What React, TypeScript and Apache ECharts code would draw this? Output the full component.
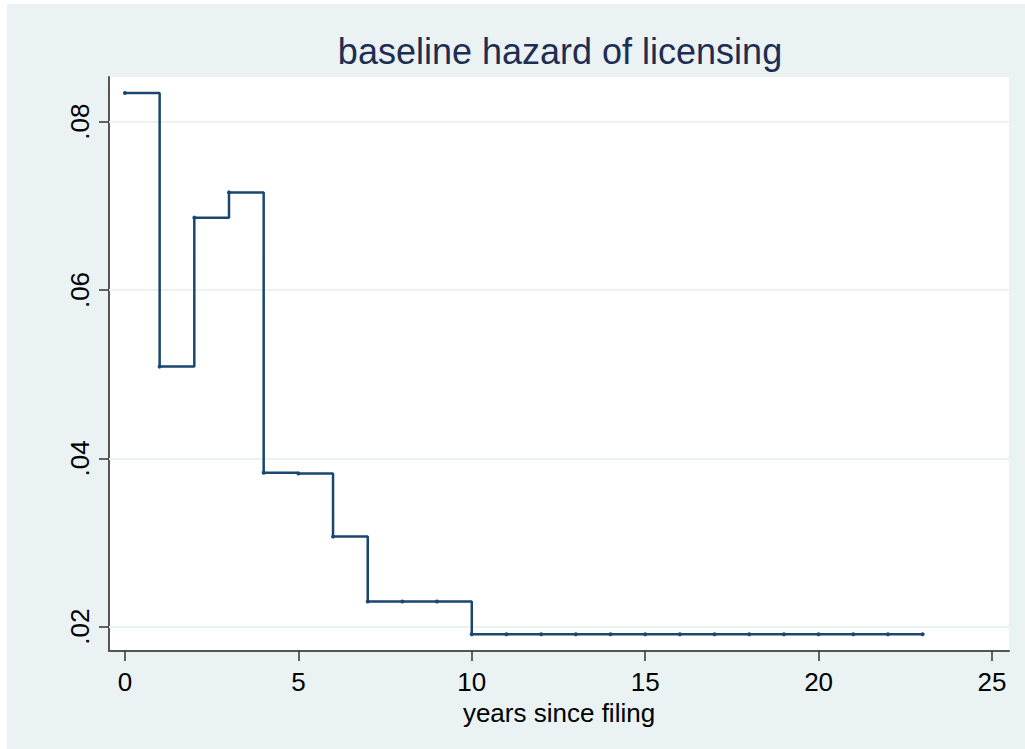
import React, { useEffect, useRef } from "react";
import * as echarts from "echarts";

const years = [0, 1, 2, 3, 4, 5, 6, 7, 8, 9, 10, 11, 12, 13, 14, 15, 16, 17, 18, 19, 20, 21, 22, 23];
const hazard = [
  0.0834, 0.0509, 0.0686, 0.0716, 0.0383, 0.0382, 0.0307, 0.023, 0.023, 0.023,
  0.0191, 0.0191, 0.0191, 0.0191, 0.0191, 0.0191, 0.0191, 0.0191, 0.0191, 0.0191,
  0.0191, 0.0191, 0.0191, 0.0191,
];
const xTicks = [0, 5, 10, 15, 20, 25];
const yTicks = [0.02, 0.04, 0.06, 0.08];
const titleText = "baseline hazard of licensing";
const xName = "years since filing";

const FONT = "'Liberation Sans', Arial, sans-serif";

export default function App() {
  const ref = useRef<HTMLDivElement>(null);
  useEffect(() => {
    if (!ref.current) return;
    const chart = echarts.init(ref.current, null, { renderer: "svg" });
    chart.setOption({
      animation: false,
      backgroundColor: "#ffffff",
      textStyle: { fontFamily: FONT },
      graphic: [
        {
          type: "rect",
          z: -10,
          silent: true,
          shape: { x: 7, y: 4, width: 1018, height: 745 },
          style: { fill: "#eaf2f3" },
        },
      ],
      title: {
        text: titleText,
        left: 560,
        textAlign: "center",
        top: 33,
        padding: 0,
        textStyle: { fontFamily: FONT, fontSize: 36, fontWeight: "normal", color: "#1e2d52" },
      },
      grid: {
        left: 109,
        top: 77,
        width: 900,
        height: 574,
        show: true,
        backgroundColor: "#ffffff",
        borderWidth: 0,
      },
      xAxis: {
        type: "value",
        min: -0.46,
        max: 25.49,
        name: xName,
        nameLocation: "middle",
        nameGap: 44,
        nameTextStyle: { fontFamily: FONT, fontSize: 26, color: "#000" },
        axisLine: { show: true, onZero: false, lineStyle: { color: "#555", width: 2 } },
        axisTick: { show: true, customValues: xTicks, length: 10, lineStyle: { color: "#333", width: 1.5 } },
        axisLabel: {
          customValues: xTicks,
          margin: 18,
          fontFamily: FONT,
          fontSize: 26,
          color: "#000",
          formatter: (v: number) => String(Math.round(v)),
        },
        splitLine: { show: false },
      },
      yAxis: {
        type: "value",
        min: 0.01711,
        max: 0.08531,
        axisLine: { show: true, onZero: false, lineStyle: { color: "#555", width: 2 } },
        axisTick: { show: true, customValues: yTicks, length: 10, lineStyle: { color: "#333", width: 1.5 } },
        axisLabel: {
          customValues: yTicks,
          rotate: 90,
          margin: 16,
          fontFamily: FONT,
          fontSize: 26,
          color: "#000",
          formatter: (v: number) => v.toFixed(2).replace(/^0/, ""),
        },
        splitLine: { show: false },
      },
      series: [
        {
          type: "line",
          data: [],
          z: 1,
          silent: true,
          markLine: {
            silent: true,
            symbol: "none",
            label: { show: false },
            lineStyle: { color: "#eaf2f3", width: 2, type: "solid" },
            data: yTicks.map((v) => ({ yAxis: v })),
          },
        },
        {
          type: "line",
          z: 5,
          step: "end",
          data: years.map((x, i) => [x, hazard[i]]),
          symbol: "circle",
          symbolSize: 4,
          showSymbol: true,
          lineStyle: { color: "#1a476f", width: 2.5 },
          itemStyle: { color: "#1a476f" },
        },
      ],
    });
    return () => chart.dispose();
  }, []);
  return (
    <div
      ref={ref}
      style={{ position: "absolute", left: 0, top: 0, width: 1025, height: 749 }}
    />
  );
}
